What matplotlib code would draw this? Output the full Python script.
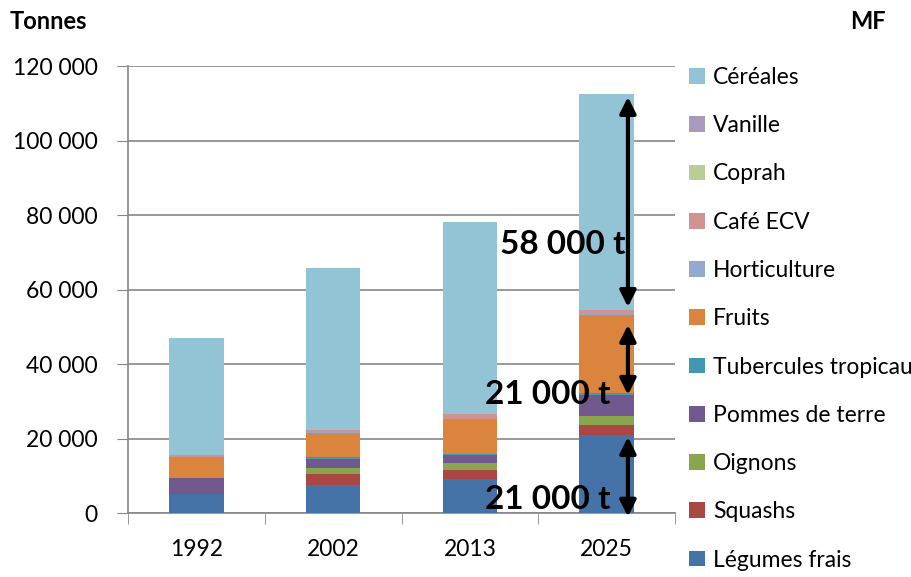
import matplotlib.pyplot as plt
import numpy as np

plt.rcParams['font.family'] = ['Lato', 'DejaVu Sans']

years = ['1992', '2002', '2013', '2025']

# series from bottom to top of the stack
series = ['Légumes frais', 'Squashs', 'Oignons', 'Pommes de terre',
          'Tubercules tropicaux', 'Fruits', 'Horticulture', 'Café ECV',
          'Coprah', 'Vanille', 'Céréales']
legumes = [5000, 7500, 9000, 21000]
squashs = [0, 3000, 2500, 2500]
oignons = [0, 1600, 2000, 2600]
pommes = [4500, 2400, 2000, 5600]
tubercules = [0, 600, 450, 500]
fruits = [5500, 6500, 9200, 21000]
horticulture = [100, 100, 100, 100]
cafe = [500, 600, 1300, 1200]
coprah = [0, 50, 50, 50]
vanille = [0, 20, 20, 20]
cereales = [31500, 43300, 51450, 58000]

values = [legumes, squashs, oignons, pommes, tubercules, fruits,
          horticulture, cafe, coprah, vanille, cereales]
colors = ['#4572A7', '#AA4643', '#89A54E', '#71588F', '#4198AF', '#DB843D',
          '#93A9CF', '#D19392', '#B9CD96', '#A99BBD', '#92C4D6']

fig = plt.figure(figsize=(9.12, 5.77), dpi=100)
ax = fig.add_axes([0.1404, 0.1109, 0.5997, 0.7747])

ind = np.arange(len(years))
bottom = np.zeros(len(years))
bars = []
for name, vals, c in zip(series, values, colors):
    b = ax.bar(ind, vals, 0.4, bottom=bottom, color=c, label=name, zorder=3)
    bars.append(b)
    bottom += np.array(vals)

ax.set_xlim(-0.5, 3.5)
ax.set_ylim(0, 120000)
ax.set_yticks(np.arange(0, 120001, 20000))
ax.set_yticklabels(['{:,}'.format(v).replace(',', ' ') for v in range(0, 120001, 20000)],
                   fontsize=16.5)
ax.set_xticks(ind)
ax.set_xticklabels(years, fontsize=16.5)
ax.set_xticks(np.arange(-0.5, 3.6, 1), minor=True)
ax.tick_params(axis='x', which='major', length=0, pad=19)
ax.tick_params(axis='x', which='minor', length=8, color='#868686', direction='out')
ax.tick_params(axis='y', length=8, color='#868686', direction='out', pad=14)
ax.grid(axis='y', color='#868686', linewidth=1.2, zorder=0)
for s in ['top', 'right']:
    ax.spines[s].set_visible(False)
for s in ['left', 'bottom']:
    ax.spines[s].set_color('#868686')
    ax.spines[s].set_linewidth(1.2)

# double arrows and labels on 2025
arrow = dict(arrowstyle='<|-|>', color='black', lw=3, mutation_scale=24,
             shrinkA=0, shrinkB=0)
ax.annotate('', xy=(3.156, 111700), xytext=(3.156, 55300), arrowprops=arrow, zorder=5)
ax.annotate('', xy=(3.156, 50500), xytext=(3.156, 31700), arrowprops=arrow, zorder=5)
ax.annotate('', xy=(3.156, 20400), xytext=(3.156, -1000), arrowprops=arrow,
            zorder=5, annotation_clip=False)
ax.text(2.22, 72000, '58 000 t', fontsize=24, fontweight='bold', va='center', zorder=6)
ax.text(2.11, 31700, '21 000 t', fontsize=24, fontweight='bold', va='center', zorder=6)
ax.text(2.11, 3500, '21 000 t', fontsize=24, fontweight='bold', va='center', zorder=6)

fig.text(0.011, 0.962, 'Tonnes', fontsize=17, fontweight='bold', va='center')
fig.text(0.932, 0.962, 'MF', fontsize=17, fontweight='bold', va='center')

leg = ax.legend([b[0] for b in bars[::-1]], series[::-1], loc='upper left',
                bbox_to_anchor=(0.756, 0.884), bbox_transform=fig.transFigure,
                frameon=False, fontsize=16.5, handlelength=0.68, handleheight=0.68,
                handletextpad=0.35, labelspacing=1.19, borderpad=0, borderaxespad=0)

plt.savefig('out.png', dpi=100)
